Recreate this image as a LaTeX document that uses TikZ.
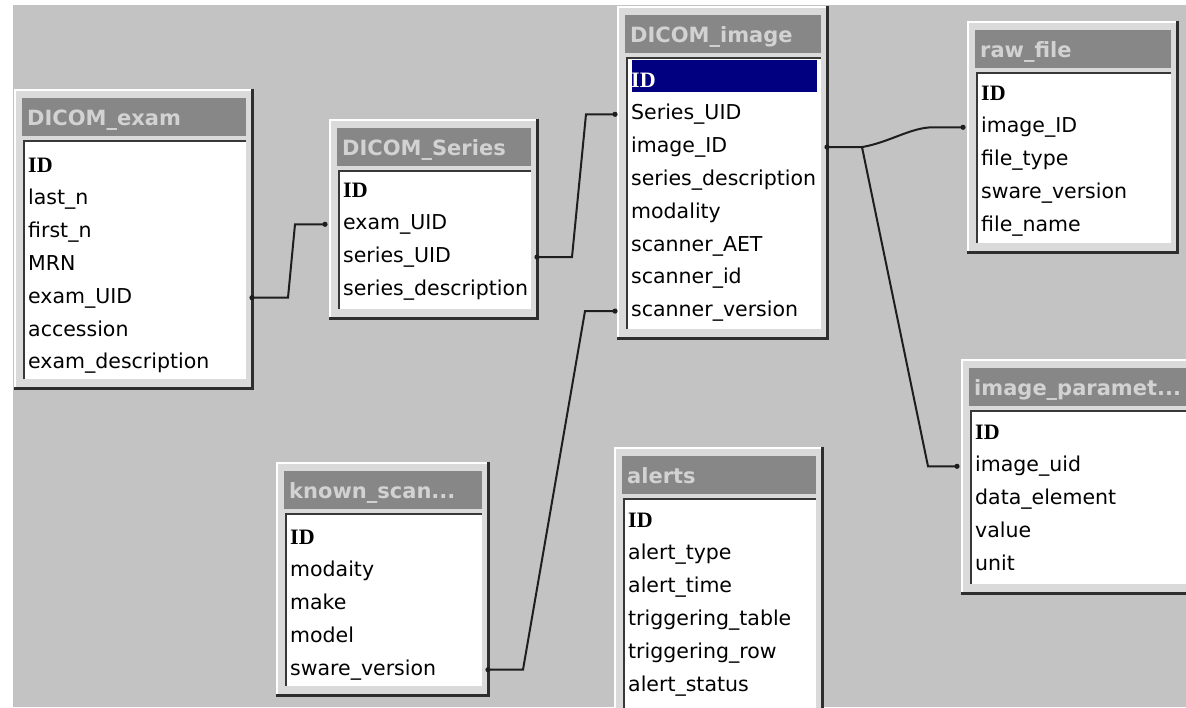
\documentclass[tikz,border=0pt]{standalone}
\usepackage{fontspec}
\setmainfont{DejaVu Sans}
\newfontfamily\idfont{Liberation Serif}
\newfontfamily\ttlfont{DejaVu Sans}
\definecolor{bgc}{HTML}{C3C3C3}
\definecolor{framec}{HTML}{DADADA}
\definecolor{darkc}{HTML}{2E2E2E}
\definecolor{insetc}{HTML}{383838}
\definecolor{titlec}{HTML}{878787}
\definecolor{titletc}{HTML}{D2D2D2}
\definecolor{linec}{HTML}{1E1E1E}
\definecolor{navyc}{HTML}{000080}
\tikzset{
  tabframe/.style={draw=none, fill=framec, inner sep=0pt, outer sep=0pt},
  hilite/.style={draw=white, line width=2pt},
  shadowline/.style={draw=darkc, line width=3pt},
  insetline/.style={draw=insetc, line width=2.5pt},
  titlebg/.style={fill=titlec},
  titletext/.style={text=titletc, font=\ttlfont\bfseries\fontsize{21}{25}\selectfont, inner sep=0pt},
  rowtext/.style={text=black, font=\fontsize{20.5}{24}\selectfont, inner sep=0pt, text height=15pt, text depth=4pt},
  rel/.style={draw=linec, line width=2pt},
  reldot/.style={fill=linec},
}
% #1 name, #2 x1, #3 y1, #4 x2, #5 y2, #6 title, #7 rows, #8 first row offset, #9 hook
\newcommand{\dbtable}[9]{%
  \def\idcol{black}%
  \node[tabframe, minimum width={(#4-#2)*1pt}, minimum height={(#5-#3)*1pt}, anchor=north west] (#1) at (#2,#3) {};
  \draw[hilite] (#1.south west) -- (#1.north west) -- (#1.north east);
  \draw[shadowline] ([yshift=1.5pt]#1.north east) -- (#1.south east) -- ([xshift=-1.5pt]#1.south west);
  \fill[titlebg] ([shift={(7pt,-8pt)}]#1.north west) rectangle ([shift={(-6pt,-46pt)}]#1.north east);
  \begin{scope}
    \clip ([shift={(7pt,-8pt)}]#1.north west) rectangle ([shift={(-6pt,-46pt)}]#1.north east);
    \node[titletext, anchor=base west] (#1-title) at ([shift={(12pt,-35pt)}]#1.north west) {#6};
  \end{scope}
  \fill[white] ([shift={(9pt,-51pt)}]#1.north west) rectangle ([shift={(-6pt,9pt)}]#1.south east);
  \draw[insetline] ([shift={(9pt,9pt)}]#1.south west) -- ([shift={(9pt,-51pt)}]#1.north west) -- ([shift={(-6pt,-51pt)}]#1.north east);
  #9
  \begin{scope}
    \clip ([shift={(10pt,-52pt)}]#1.north west) rectangle ([shift={(-8pt,9pt)}]#1.south east);
    \foreach \r [count=\i] in {#7} {
      \node[rowtext, anchor=base west] (#1-\i) at ([shift={(13pt,{-(#8+7+(\i-1)*32.8)*1pt})}]#1.north west)
        {\ifnum\i=1 \color{\idcol}\idfont\bfseries\fontsize{22}{24}\selectfont\fi\r};
    }
  \end{scope}
}
\begin{document}
\begin{tikzpicture}[x=1pt,y=-1pt]
  \useasboundingbox (0,0) rectangle (1186,707);
  \clip (0,0) rectangle (1186,707);
  \fill[white] (0,0) rectangle (1186,707);
  \fill[bgc] (13,5) rectangle (1186,707);

  \dbtable{exam}{15}{90}{252}{388}{DICOM\_exam}{ID,last\_n,first\_n,MRN,exam\_UID,accession,exam\_description}{75}{}
  \dbtable{series}{330}{120}{537}{318}{DICOM\_Series}{ID,exam\_UID,series\_UID,series\_description}{70}{}
  \dbtable{image}{618}{7}{827}{338}{DICOM\_image}{ID,Series\_UID,image\_ID,series\_description,modality,scanner\_AET,scanner\_id,scanner\_version}{73}{%
    \fill[navyc] ([shift={(14pt,-53pt)}]image.north west) rectangle ([shift={(-10pt,-85pt)}]image.north east);
    \def\idcol{white}}
  \dbtable{raw}{968}{22}{1177}{252}{raw\_file}{ID,image\_ID,file\_type,sware\_version,file\_name}{71}{}
  \dbtable{param}{962}{360}{1196}{593}{image\_paramet...}{ID,image\_uid,data\_element,value,unit}{72}{}
  \dbtable{known}{277}{463}{488}{695}{known\_scan...}{ID,modaity,make,model,sware\_version}{74}{}
  \dbtable{alerts}{615}{448}{822}{722}{alerts}{ID,alert\_type,alert\_time,triggering\_table,triggering\_row,alert\_status}{72}{}

  % relationships
  \coordinate (c1a) at (exam.east |- exam-5.west);
  \coordinate (c1b) at ([xshift=-5pt]series.west |- series-2.west);
  \draw[rel] (c1a) -- ++(36,0) -- ([xshift=-30pt]c1b) -- (c1b);

  \coordinate (c2a) at (series.east |- series-3.west);
  \coordinate (c2b) at ([xshift=-3pt]image.west |- image-2.west);
  \draw[rel] (c2a) -- ++(35,0) -- ([xshift=-29pt]c2b) -- (c2b);

  \coordinate (c3a) at (known.east |- known-5.west);
  \coordinate (c3b) at ([xshift=-3pt]image.west |- image-8.west);
  \draw[rel] (c3a) -- ++(35,0) -- ([xshift=-30pt]c3b) -- (c3b);

  \coordinate (c4a) at (image.east |- image-3.west);
  \coordinate (j) at ([xshift=35pt]c4a);
  \coordinate (c4b) at ([xshift=-5pt]raw.west |- raw-2.west);
  \draw[rel] (c4a) -- (j) .. controls +(28,-5) and +(-22,0) .. ([xshift=-30pt]c4b) -- (c4b);

  \coordinate (c5b) at ([xshift=-5pt]param.west |- param-2.west);
  \draw[rel] (j) -- ([xshift=-29pt]c5b) -- (c5b);

  \foreach \c in {c1a,c1b,c2a,c2b,c3a,c3b,c4a,c4b,c5b}
    \fill[reldot] (\c) circle[radius=2.6pt];
\end{tikzpicture}
\end{document}
